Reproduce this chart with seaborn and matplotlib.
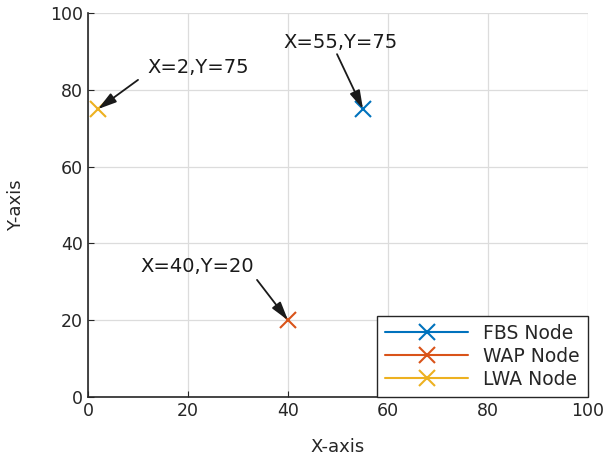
import matplotlib
matplotlib.use("Agg")
import matplotlib.pyplot as plt
import seaborn as sns
import pandas as pd

# node positions
nodes = ["FBS Node", "WAP Node", "LWA Node"]
node_x = [55, 40, 2]
node_y = [75, 20, 75]
colors = ["#0072BD", "#D95319", "#EDB120"]

# annotation text and where the arrow tail / text sit (data units)
ann_text = ["X=55,Y=75", "X=40,Y=20", "X=2,Y=75"]
ann_text_xy = [(39, 92.3), (10.4, 33.9), (11.8, 85.7)]
ann_tail_xy = [(49.8, 89.3), (33.8, 30.5), (10.0, 82.6)]

df = pd.DataFrame({"x": node_x, "y": node_y, "node": nodes})

sns.set_style("white")
plt.rcParams["font.family"] = ["DejaVu Sans"]

fig = plt.figure(figsize=(6.05, 4.62), dpi=100)
ax = fig.add_axes([0.1455, 0.1407, 0.8264, 0.831])

for name, c in zip(nodes, colors):
    sub = df[df["node"] == name]
    sns.lineplot(data=sub, x="x", y="y", color=c, marker="x", markersize=12,
                 mew=1.5, mec=c, label=name, sort=False, ax=ax)

for txt, txy, tail, px, py in zip(ann_text, ann_text_xy, ann_tail_xy, node_x, node_y):
    ax.text(txy[0], txy[1], txt, fontsize=14, va="center", ha="left", color="#1a1a1a")
    ax.annotate("", xy=(px, py), xytext=tail,
                arrowprops=dict(arrowstyle="-|>,head_length=0.7,head_width=0.2",
                                color="#1a1a1a", lw=1.3,
                                mutation_scale=16, shrinkA=0, shrinkB=0))

ax.set_xlim(0, 100)
ax.set_ylim(0, 100)
ax.set_xticks(range(0, 101, 20))
ax.set_yticks(range(0, 101, 20))
ax.grid(True, color="#dcdcdc", lw=0.9)
ax.set_axisbelow(True)
for s in ["top", "right"]:
    ax.spines[s].set_visible(False)
for s in ["left", "bottom"]:
    ax.spines[s].set_color("#262626")
    ax.spines[s].set_linewidth(1.2)
ax.tick_params(direction="in", length=4, labelsize=12.5, colors="#262626",
               left=True, bottom=True)
ax.set_xlabel("X-axis", fontsize=13, color="#262626", labelpad=13)
ax.set_ylabel("Y-axis", fontsize=13, color="#262626", labelpad=18)

handles, labels = ax.get_legend_handles_labels()
leg = ax.legend(handles, labels, loc="lower right", fontsize=13.5,
                frameon=True, fancybox=False, edgecolor="#262626",
                framealpha=1, borderaxespad=0, handlelength=4.4,
                labelspacing=0.2, borderpad=0.45)
leg.get_frame().set_linewidth(1.0)

fig.savefig("out.png", dpi=100)
